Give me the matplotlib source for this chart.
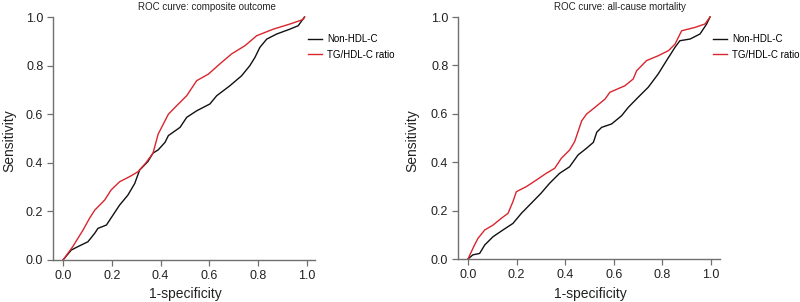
import matplotlib
matplotlib.use('Agg')
import matplotlib.pyplot as plt

plt.rcParams['font.family'] = ['Liberation Sans', 'DejaVu Sans']

# composite outcome: (1-specificity, sensitivity)
comp_nonhdl_x = [0.0, 0.034, 0.061, 0.102, 0.13, 0.143, 0.178, 0.205, 0.232, 0.266, 0.294,
                 0.314, 0.348, 0.369, 0.39, 0.418, 0.432, 0.48, 0.507, 0.548, 0.602, 0.63,
                 0.684, 0.732, 0.766, 0.787, 0.807, 0.835, 0.876, 0.93, 0.964, 0.99]
comp_nonhdl_y = [0.0, 0.041, 0.055, 0.075, 0.11, 0.13, 0.144, 0.185, 0.226, 0.267, 0.315,
                 0.37, 0.405, 0.44, 0.453, 0.484, 0.512, 0.546, 0.587, 0.614, 0.642, 0.676,
                 0.717, 0.758, 0.80, 0.834, 0.875, 0.909, 0.93, 0.95, 0.964, 1.0]
comp_tghdl_x = [0.0, 0.04, 0.082, 0.109, 0.13, 0.171, 0.197, 0.232, 0.273, 0.307, 0.34,
                0.369, 0.39, 0.432, 0.466, 0.507, 0.548, 0.596, 0.643, 0.691, 0.746,
                0.794, 0.862, 0.93, 0.985, 0.99]
comp_tghdl_y = [0.0, 0.055, 0.123, 0.172, 0.205, 0.247, 0.288, 0.322, 0.343, 0.363, 0.40,
                0.44, 0.518, 0.60, 0.635, 0.676, 0.738, 0.765, 0.807, 0.848, 0.882,
                0.923, 0.95, 0.971, 0.99, 1.0]

# all-cause mortality
mort_nonhdl_x = [0.0, 0.02, 0.048, 0.069, 0.103, 0.144, 0.185, 0.22, 0.26, 0.30, 0.336,
                 0.377, 0.418, 0.453, 0.487, 0.516, 0.53, 0.55, 0.591, 0.632, 0.66, 0.70,
                 0.742, 0.783, 0.817, 0.852, 0.872, 0.914, 0.955, 0.982, 0.996]
mort_nonhdl_y = [0.0, 0.017, 0.023, 0.058, 0.092, 0.12, 0.147, 0.189, 0.23, 0.271, 0.313,
                 0.354, 0.381, 0.43, 0.457, 0.482, 0.524, 0.544, 0.558, 0.592, 0.627, 0.668,
                 0.71, 0.765, 0.82, 0.875, 0.902, 0.909, 0.93, 0.971, 1.0]
mort_tghdl_x = [0.0, 0.027, 0.041, 0.069, 0.103, 0.137, 0.165, 0.185, 0.199, 0.24, 0.281,
                0.322, 0.357, 0.384, 0.418, 0.439, 0.468, 0.488, 0.523, 0.564, 0.584,
                0.646, 0.68, 0.694, 0.735, 0.783, 0.825, 0.852, 0.879, 0.934, 0.975, 0.996]
mort_tghdl_y = [0.0, 0.058, 0.085, 0.12, 0.14, 0.168, 0.189, 0.237, 0.278, 0.299, 0.326,
                0.354, 0.375, 0.416, 0.45, 0.485, 0.571, 0.599, 0.627, 0.661, 0.689,
                0.716, 0.744, 0.778, 0.82, 0.84, 0.861, 0.888, 0.943, 0.957, 0.971, 1.0]

ticks = [0.0, 0.2, 0.4, 0.6, 0.8, 1.0]
tick_labels = ['0.0', '0.2', '0.4', '0.6', '0.8', '1.0']
names = ['Non-HDL-C', 'TG/HDL-C ratio']
red = '#d9252e'
axis_grey = '#707070'

fig = plt.figure(figsize=(8, 3.02), dpi=100)

panels = [
    dict(rect=[53/800, 42/302, 262/800, 243/302], xlim=(-0.041, 1.033),
         title='ROC curve: composite outcome', title_x=207/800,
         xl_x=185/800, yl_x=9/800, leg_x=308/800,
         black=(comp_nonhdl_x, comp_nonhdl_y), redc=(comp_tghdl_x, comp_tghdl_y)),
    dict(rect=[458/800, 43/302, 262/800, 242/302], xlim=(-0.041, 1.037),
         title='ROC curve: all-cause mortality', title_x=620/800,
         xl_x=590/800, yl_x=412/800, leg_x=713/800,
         black=(mort_nonhdl_x, mort_nonhdl_y), redc=(mort_tghdl_x, mort_tghdl_y)),
]

for p in panels:
    ax = fig.add_axes(p['rect'])
    l1, = ax.plot(*p['black'], color='#111111', lw=1.0, clip_on=False)
    l2, = ax.plot(*p['redc'], color=red, lw=1.0, clip_on=False)
    ax.set_xlim(*p['xlim'])
    ax.set_ylim(0, 1)
    ax.set_xticks(ticks)
    ax.set_xticklabels(tick_labels)
    ax.set_yticks(ticks)
    ax.set_yticklabels(tick_labels)
    for s in ['top', 'right']:
        ax.spines[s].set_visible(False)
    for s in ['left', 'bottom']:
        ax.spines[s].set_color(axis_grey)
        ax.spines[s].set_linewidth(1.0)
    ax.tick_params(direction='out', length=4, width=0.9, color=axis_grey,
                   labelsize=9, labelcolor='#222222', pad=3)
    fig.text(p['title_x'], 0.978, p['title'], ha='center', va='center', fontsize=7, color='#222222')
    fig.text(p['xl_x'], 0.026, '1-specificity', ha='center', va='center', fontsize=10, color='#222222')
    fig.text(p['yl_x'], 0.536, 'Sensitivity', ha='center', va='center', rotation=90,
             fontsize=10, color='#222222')
    fig.legend([l1, l2], names, loc='upper left', bbox_to_anchor=(p['leg_x'], 1 - 34/302),
               frameon=False, fontsize=7, handlelength=1.45, handletextpad=0.5,
               borderpad=0, borderaxespad=0, labelspacing=0.6)

fig.savefig('out.png', dpi=100)
